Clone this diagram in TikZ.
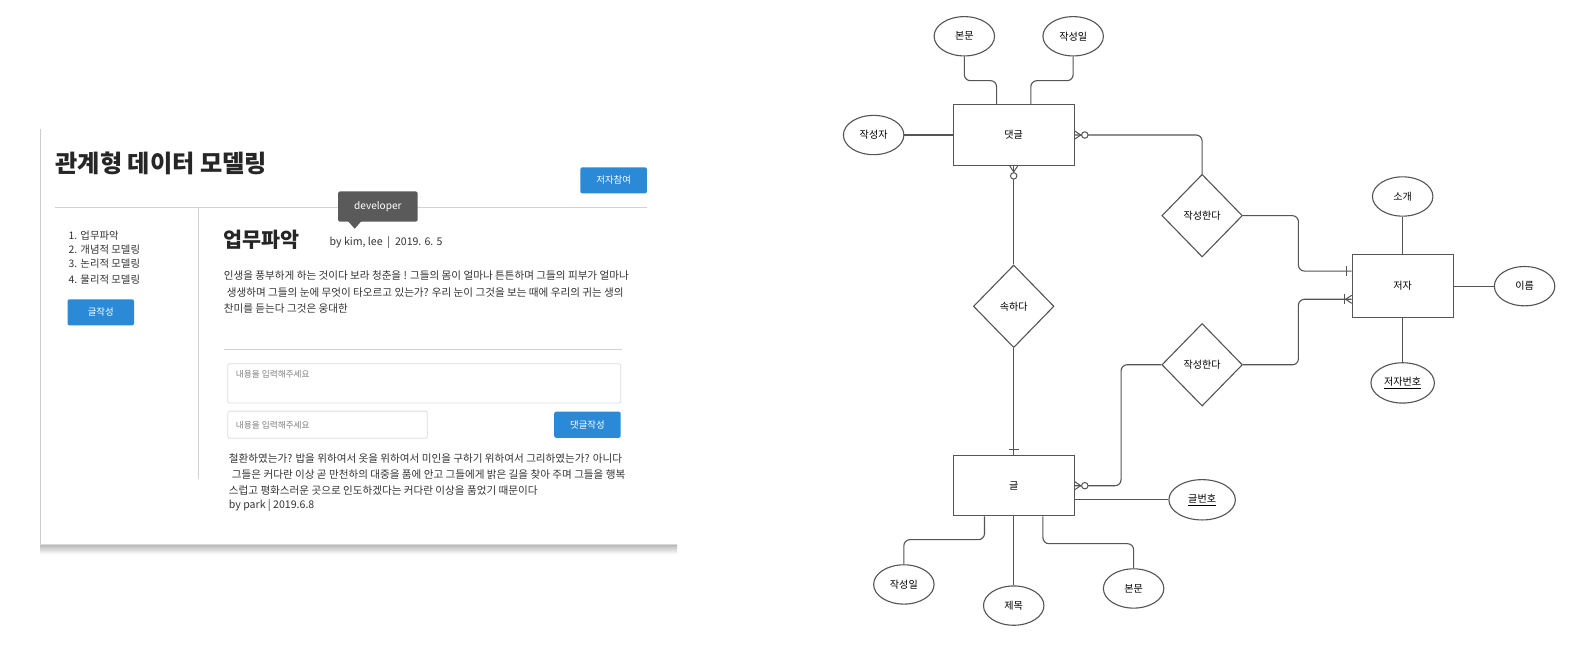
\documentclass[tikz,border=0pt]{standalone}
\usepackage{fontspec}
\setmainfont{Noto Sans CJK KR}
\usetikzlibrary{shapes.geometric,calc}
\definecolor{btnblue}{HTML}{2B8AD8}
\definecolor{tipgray}{HTML}{5A5A5A}
\definecolor{txt}{HTML}{333333}
\definecolor{erline}{HTML}{555555}
\definecolor{rulegray}{HTML}{D2D2D2}
\definecolor{boxgray}{HTML}{DDDDDD}
\begin{document}
\begin{tikzpicture}[x=1pt,y=-1pt,
  btn/.style={fill=btnblue, rounded corners=2pt, text=white, font=\fontsize{9.3}{10}\selectfont, minimum width=66pt, minimum height=26pt, inner sep=0},
  para/.style={anchor=west, inner sep=0, text=txt, font=\fontsize{10.5}{12}\selectfont},
  listitem/.style={anchor=west, inner sep=0, text=txt, font=\fontsize{10.3}{11}\selectfont},
  ph/.style={anchor=west, inner sep=0, text=gray, font=\fontsize{8.6}{9}\selectfont},
  inbox/.style={draw=boxgray, line width=0.8pt, rounded corners=2pt},
  ent/.style={draw=erline, line width=1.1pt, minimum width=120pt, minimum height=60pt, inner sep=0, font=\fontsize{10}{11}\selectfont},
  attr/.style={ellipse, draw=erline, line width=1.1pt, minimum width=60pt, minimum height=39pt, inner sep=0, font=\fontsize{10}{11}\selectfont},
  rel/.style={diamond, draw=erline, line width=1.1pt, minimum width=80pt, minimum height=82pt, inner sep=0, font=\fontsize{10}{11}\selectfont},
  conn/.style={draw=erline, line width=1.1pt, rounded corners=6pt},
  cmark/.style={draw=erline, line width=1pt},
  zcirc/.style={draw=erline, line width=1pt, fill=white}
]
\useasboundingbox (0,0) rectangle (1568,640);
\fill[white] (0,0) rectangle (1568,640);

% ---------- mockup card ----------
\shade[top color=gray!65, bottom color=white] (40,539) rectangle (672,550);
\fill[white] (40,126) rectangle (672,540);
\draw[gray!40, line width=1.5pt] (40,128) -- (40,540);
\draw[gray!30, line width=1pt] (40,540) -- (672,540);

\node[anchor=west, inner sep=0, text=black!85, font=\fontsize{24}{26}\bfseries\selectfont] (title) at (55,162) {관계형 데이터 모델링};
\node[btn] (join) at (609,179) {저자참여};
\draw[rulegray, line width=1.6pt] (55,206) -- (642,206);
\draw[rulegray, line width=1.2pt] (197,206) -- (197,475);

\node[fill=tipgray, rounded corners=2pt, text=white, minimum width=79pt, minimum height=30pt, inner sep=0, font=\fontsize{10}{11}\selectfont] (tip) at (375,205) {developer};
\fill[tipgray] (345,219) -- (359,219) -- (352,227) -- cycle;

\node[listitem] (l1) at (68,234) {1. 업무파악};
\node[listitem] (l2) at (68,248) {2. 개념적 모델링};
\node[listitem] (l3) at (68,262) {3. 논리적 모델링};
\node[listitem] (l4) at (68,277) {4. 물리적 모델링};
\node[btn] (write) at (100,310) {글작성};

\node[anchor=west, inner sep=0, text=black!85, font=\fontsize{20.5}{22}\bfseries\selectfont] (h1) at (222,238) {업무파악};
\node[anchor=west, inner sep=0, text=txt, font=\fontsize{10.5}{12}\selectfont] (by1) at (327,241) {by kim, lee \ | \ 2019. 6. 5};

\node[para] (p1) at (222,273) {인생을 풍부하게 하는 것이다 보라 청춘을 ! 그들의 몸이 얼마나 튼튼하며 그들의 피부가 얼마나};
\node[para] (p2) at (225,290) {생생하며 그들의 눈에 무엇이 타오르고 있는가? 우리 눈이 그것을 보는 때에 우리의 귀는 생의};
\node[para] (p3) at (222,306) {찬미를 듣는다 그것은 웅대한};

\draw[rulegray, line width=1.2pt] (222,347) -- (617,347);
\draw[inbox] (226,361) rectangle (616,400);
\node[ph] (ph1) at (234,371) {내용을 입력해주세요};
\draw[inbox] (226,408) rectangle (424,435);
\node[ph] (ph2) at (234,422) {내용을 입력해주세요};
\node[btn] (cbtn) at (583,421.5) {댓글작성};

\node[para] (q1) at (227,455) {철환하였는가? 밥을 위하여서 옷을 위하여서 미인을 구하기 위하여서 그리하였는가? 아니다};
\node[para] (q2) at (230,471) {그들은 커다란 이상 곧 만천하의 대중을 품에 안고 그들에게 밝은 길을 찾아 주며 그들을 행복};
\node[para] (q3) at (227,487) {스럽고 평화스러운 곳으로 인도하겠다는 커다란 이상을 품었기 때문이다};
\node[para] (q4) at (227,502) {by park | 2019.6.8};

% ---------- ER diagram ----------
\node[ent] (dg) at (1006,134) {댓글};
\node[ent] (g) at (1006,482) {글};
\node[ent, minimum width=100pt, minimum height=62pt] (jz) at (1392,284) {저자};

\node[attr] (bm1) at (957,36) {본문};
\node[attr] (js1) at (1065,36) {작성일};
\node[attr] (jsz) at (867,134) {작성자};
\node[attr] (sg) at (1392,195) {소개};
\node[attr] (ir) at (1513,284) {이름};
\node[attr, minimum width=63pt, minimum height=40pt] (jzb) at (1392,380) {\underline{저자번호}};
\node[attr, minimum width=66pt, minimum height=40pt] (gbh) at (1193,496) {\underline{글번호}};
\node[attr] (js2) at (897,580) {작성일};
\node[attr] (jm) at (1006,601) {제목};
\node[attr] (bm2) at (1125,584) {본문};

\node[rel] (d1) at (1193,214) {작성한다};
\node[rel] (d2) at (1193,362) {작성한다};
\node[rel] (sh) at (1006,304) {속하다};

% connectors
\draw[conn] (bm1.south) -- ++(0,24) -| ([xshift=-17pt]dg.north);
\draw[conn] (js1.south) -- ++(0,24) -| ([xshift=17pt]dg.north);
\draw[conn] (jsz.east) -- (dg.west);
\draw[conn] (dg.east) -| (d1.north);
\draw[conn] (dg.south) -- (sh.north);
\draw[conn] (sh.south) -- (g.north);
\draw[conn] (d1.east) -- ++(55,0) |- ([yshift=15pt]jz.west);
\draw[conn] (d2.east) -- ++(55,0) |- ([yshift=-13pt]jz.west);
\draw[conn] (g.east) -- ++(46,0) |- (d2.west);
\draw[conn] ([yshift=-14pt]g.east) -- (gbh.west);
\draw[conn] ([xshift=-29pt]g.south) -- ++(0,23) -| (js2.north);
\draw[conn] (g.south) -- (jm.north);
\draw[conn] ([xshift=29pt]g.south) -- ++(0,27) -| (bm2.north);
\draw[conn] (sg.south) -- (jz.north);
\draw[conn] (jz.east) -- (ir.west);
\draw[conn] (jz.south) -- (jzb.north);

% cardinality marks
\coordinate (m1) at (dg.east);
\draw[cmark] ($(m1)+(0,-4)$) -- ($(m1)+(6,0)$) -- ($(m1)+(0,4)$);
\draw[zcirc] ($(m1)+(10,0)$) circle (3.2);
\coordinate (m2) at (dg.south);
\draw[cmark] ($(m2)+(-4,0)$) -- ($(m2)+(0,6)$) -- ($(m2)+(4,0)$);
\draw[zcirc] ($(m2)+(0,10)$) circle (3.2);
\draw[cmark] ($(g.north)+(-5,-5)$) -- ($(g.north)+(5,-5)$);
\coordinate (m3) at (g.east);
\draw[cmark] ($(m3)+(0,-4)$) -- ($(m3)+(6,0)$) -- ($(m3)+(0,4)$);
\draw[zcirc] ($(m3)+(10,0)$) circle (3.2);
\coordinate (m4) at ([yshift=15pt]jz.west);
\draw[cmark] ($(m4)+(-5,-5)$) -- ($(m4)+(-5,5)$);
\coordinate (m5) at ([yshift=-13pt]jz.west);
\draw[cmark] ($(m5)+(0,-4)$) -- ($(m5)+(-6,0)$) -- ($(m5)+(0,4)$);
\draw[cmark] ($(m5)+(-7,-5)$) -- ($(m5)+(-7,5)$);
\end{tikzpicture}
\end{document}
